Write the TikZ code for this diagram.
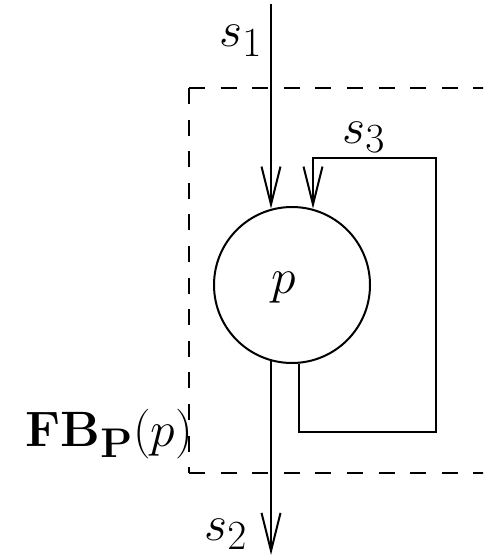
\documentclass[tikz,border=0pt]{standalone}
\usetikzlibrary{arrows.meta}
\begin{document}
\begin{tikzpicture}[x=0.5pt,y=-0.5pt,
  conn/.style={line width=1pt},
  arr/.style={conn,-{Straight Barb[length=19pt,width=9.5pt,line width=1pt]}},
  frame/.style={line width=1pt,dash pattern=on 8pt off 7.8pt},
  lbl/.style={inner sep=0pt,font=\Huge},
  procstyle/.style={circle,draw,line width=1pt,minimum size=78pt,inner sep=0pt}]
\useasboundingbox (0,0) rectangle (483,556);
\clip (0,0) rectangle (483,556);
% frame
\coordinate (ftl) at (189,88);
\coordinate (fbl) at (189,473);
\coordinate (ftr) at (520,88);
\coordinate (fbr) at (520,473);
\draw[frame] (ftl) -- (ftr);
\draw[frame] (ftl) -- (fbl);
\draw[frame] (fbl) -- (fbr);
% process
\node[procstyle] (proc) at (292,285) {};
\node[lbl] (plabel) at (284,288) {$p$};
% s1
\coordinate (s1top) at (271,4);
\draw[arr] (s1top) -- (s1top |- proc.105);
\node[lbl,anchor=base west] (s1lab) at (219,47) {$s_1$};
% s2
\coordinate (s2end) at (271,555);
\draw[arr] (s2end |- proc.255) -- (s2end);
\node[lbl,anchor=base west] (s2lab) at (204,540) {$s_2$};
% feedback s3
\coordinate (fb1) at (299,432);
\coordinate (fb2) at (436,432);
\coordinate (fb3) at (436,158);
\coordinate (fb4) at (313,158);
\draw[arr,line join=miter] (proc.south -| fb1) -- (fb1) -- (fb2) -- (fb3) -- (fb4) -- (fb4 |- proc.75);
\node[lbl,anchor=base west] (s3lab) at (342,143) {$s_3$};
% frame label
\node[lbl,anchor=base west] (fblab) at (25,446) {$\mathbf{FB}_{\mathbf{P}}(p)$};
\end{tikzpicture}
\end{document}
